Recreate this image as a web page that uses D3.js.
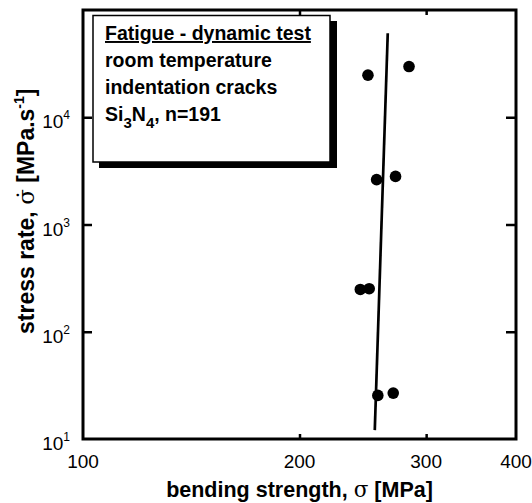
<!DOCTYPE html>
<html>
<head>
<meta charset="utf-8">
<script src="https://cdn.jsdelivr.net/npm/d3@7"></script>
<style>
    body { margin: 0; background: #fff; }
    text { font-family: "Liberation Sans", Arial, sans-serif; }
</style>
</head>
<body>
<div class="chart__container"></div>
<script>
//initialisation
const CHART__WIDTH = 532;
const CHART__HEIGHT = 503;

//measured points : bending strength [MPa] and stress rate [MPa/s]
const STRENGTH = [249, 284, 256, 272, 243, 250, 257, 270];
const STRESS_RATE = [24700, 29700, 2620, 2810, 248, 252, 25.5, 26.8];

//fitted line, n=191
const FIT_STRENGTH = [254.5, 265.3];
const FIT_RATE = [12.1, 60700];

const X_TICKS = [100, 200, 300, 400];
const Y_TICKS = [10, 100, 1000, 10000];

const BOX_LINES = ["Fatigue - dynamic test", "room temperature", "indentation cracks"];

const MARGIN = {
    top: 10,
    right: 16,
    bottom: 64,
    left: 83
}

/*-----------------------------------scales-----------------------------------*/

const xScale = d3.scaleLog().domain([100, 400]).range([MARGIN.left, CHART__WIDTH - MARGIN.right]);
const yScale = d3.scaleLog().domain([10, 100000]).range([CHART__HEIGHT - MARGIN.bottom, MARGIN.top]);

const points = STRENGTH.map((s, i) => ({ s: s, r: STRESS_RATE[i] }));
const fit = FIT_STRENGTH.map((s, i) => ({ s: s, r: FIT_RATE[i] }));

/*-----------------------------------Create element-----------------------------------*/

const svg = d3.select(".chart__container").append("svg")
    .attr("width", CHART__WIDTH)
    .attr("height", CHART__HEIGHT)
    .style("display", "block");

const x0 = xScale.range()[0], x1 = xScale.range()[1];
const y0 = yScale.range()[0], y1 = yScale.range()[1];

//axes, ticks inward, labels drawn by hand
const bottomAxis = svg.append("g")
    .attr("transform", `translate(0,${y0})`)
    .call(d3.axisTop(xScale).tickValues(X_TICKS.slice(1, 3)).tickSize(5).tickFormat(""));
const topAxis = svg.append("g")
    .attr("transform", `translate(0,${y1})`)
    .call(d3.axisBottom(xScale).tickValues(X_TICKS.slice(1, 3)).tickSize(5).tickFormat(""));
const leftAxis = svg.append("g")
    .attr("transform", `translate(${x0},0)`)
    .call(d3.axisRight(yScale).tickValues(Y_TICKS.slice(1)).tickSize(9).tickFormat(""));
const rightAxis = svg.append("g")
    .attr("transform", `translate(${x1},0)`)
    .call(d3.axisLeft(yScale).tickValues(Y_TICKS.slice(1)).tickSize(10).tickFormat(""));

[bottomAxis, topAxis, leftAxis, rightAxis].forEach(a => {
    a.select(".domain").remove();
    a.selectAll("line").attr("stroke", "#000").attr("stroke-width", 2.5);
});

//frame
svg.append("rect")
    .attr("x", x0)
    .attr("y", y1)
    .attr("width", x1 - x0)
    .attr("height", y0 - y1)
    .attr("fill", "none")
    .attr("stroke", "#000")
    .attr("stroke-width", 3);

//x tick labels
svg.selectAll(".xlabel")
    .data(X_TICKS)
    .enter()
    .append("text")
    .attr("class", "xlabel")
    .attr("x", d => xScale(d))
    .attr("y", y0 + 29)
    .attr("text-anchor", "middle")
    .attr("font-size", 19)
    .text(d => d);

//y tick labels as powers of ten
const yLabels = svg.selectAll(".ylabel")
    .data(Y_TICKS)
    .enter()
    .append("text")
    .attr("class", "ylabel")
    .attr("x", 70)
    .attr("y", d => yScale(d) + 11)
    .attr("text-anchor", "end")
    .attr("font-size", 19);
yLabels.append("tspan").text("10");
yLabels.append("tspan")
    .attr("dy", -9)
    .attr("font-size", 12)
    .text(d => Math.round(Math.log10(d)));

//axis titles
svg.append("text")
    .attr("x", (x0 + x1) / 2)
    .attr("y", 497)
    .attr("text-anchor", "middle")
    .attr("font-size", 21.5)
    .attr("font-weight", "bold")
    .html('bending strength, <tspan font-weight="normal" font-family="DejaVu Serif">σ</tspan> [MPa]');

svg.append("text")
    .attr("transform", "translate(34,334) rotate(-90)")
    .attr("text-anchor", "start")
    .attr("font-size", 23)
    .attr("font-weight", "bold")
    .html('stress rate, <tspan font-weight="normal" font-family="DejaVu Serif">σ̇</tspan> [MPa.s<tspan dy="-10" font-size="14">-1</tspan><tspan dy="10">]</tspan>');

//fitted line
svg.append("path")
    .datum(fit)
    .attr("fill", "none")
    .attr("stroke", "#000")
    .attr("stroke-width", 2.7)
    .attr("d", d3.line().x(d => xScale(d.s)).y(d => yScale(d.r)));

//data points
svg.selectAll(".dot")
    .data(points)
    .enter()
    .append("circle")
    .attr("class", "dot")
    .attr("r", 5.8)
    .attr("cx", d => xScale(d.s))
    .attr("cy", d => yScale(d.r))
    .attr("fill", "#000");

//legend box with shadow
const box = svg.append("g");
box.append("rect")
    .attr("x", 99)
    .attr("y", 21)
    .attr("width", 238)
    .attr("height", 147)
    .attr("fill", "#000");
box.append("rect")
    .attr("x", 93)
    .attr("y", 15.5)
    .attr("width", 237)
    .attr("height", 146.5)
    .attr("fill", "#fff")
    .attr("stroke", "#000")
    .attr("stroke-width", 1.5);

box.selectAll(".boxline")
    .data(BOX_LINES)
    .enter()
    .append("text")
    .attr("class", "boxline")
    .attr("x", 105)
    .attr("y", (d, i) => 40 + i * 27)
    .attr("font-size", 19.5)
    .attr("font-weight", "bold")
    .style("text-decoration", (d, i) => i === 0 ? "underline" : "none")
    .text(d => d);

box.append("text")
    .attr("x", 105)
    .attr("y", 40 + 3 * 27)
    .attr("font-size", 19.5)
    .attr("font-weight", "bold")
    .html('Si<tspan dy="7" font-size="15">3</tspan><tspan dy="-7">N</tspan><tspan dy="7" font-size="15">4</tspan><tspan dy="-7">, n=191</tspan>');
</script>
</body>
</html>
